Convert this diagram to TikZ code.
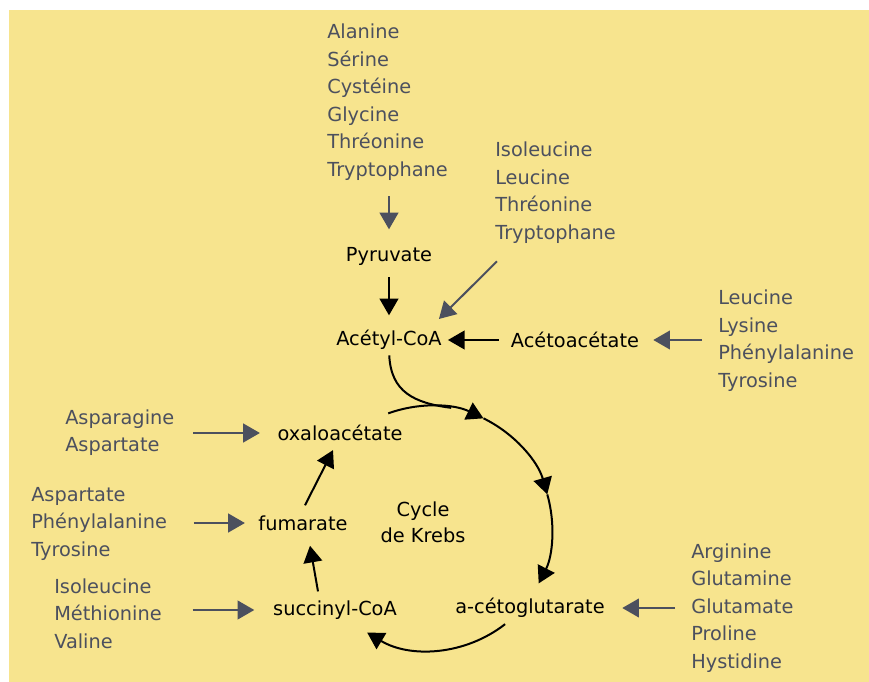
\documentclass[tikz,border=0pt]{standalone}
\usepackage{fontspec}
\setmainfont{DejaVu Sans}
\usepackage{xcolor}
\usepackage{tikz}
\usetikzlibrary{arrows.meta,calc}

\definecolor{bgyellow}{RGB}{247,228,142}
\definecolor{aagray}{RGB}{76,80,94}

\begin{document}
\begin{tikzpicture}[x=0.75pt,y=0.75pt,yscale=-1,xscale=1,
  met/.style={inner sep=0pt, font=\fontsize{14.5}{20.6}\selectfont, text=black},
  aa/.style={anchor=west, inner sep=0pt, align=left, font=\fontsize{14.5}{20.6}\selectfont, text=aagray},
  grayarr/.style={draw=aagray, line width=1.5pt, -{Triangle[length=12.5pt,width=14pt]}},
  blackarr/.style={draw=black, line width=1.5pt, -{Triangle[length=12.5pt,width=14pt]}}
]
\useasboundingbox (0,0) rectangle (869,682);
%Shape: Rectangle [background]
\fill [bgyellow] (9,10) rectangle (869,682);

% Text Node
\draw (389,256) node [met] (pyr) {Pyruvate};
% Text Node
\draw (389,340) node [met] (acetyl) {Acétyl-CoA};
% Text Node
\draw (575,340) node [met] (acetoac) {Acétoacétate};
% Text Node
\draw (340,433) node [met] (oxalo) {oxaloacétate};
% Text Node
\draw (303,523) node [met] (fum) {fumarate};
% Text Node
\draw (335,610) node [met] (succ) {succinyl-CoA};
% Text Node
\draw (530,608) node [met] (akg) {a-cétoglutarate};
% Text Node
\draw (423,522) node [met, align=center, font=\fontsize{14.5}{19.5}\selectfont] (krebs) {Cycle\\de Krebs};

% Text Node
\draw (327,102) node [aa] (srcpyr) {Alanine\\Sérine\\Cystéine\\Glycine\\Thréonine\\Tryptophane};
% Text Node
\draw (495,192.5) node [aa] (srcacetyl) {Isoleucine\\Leucine\\Thréonine\\Tryptophane};
% Text Node
\draw (718,340.5) node [aa] (srcacetoac) {Leucine\\Lysine\\Phénylalanine\\Tyrosine};
% Text Node
\draw (65,432.5) node [aa] (srcoxalo) {Asparagine\\Aspartate};
% Text Node
\draw (31,523.5) node [aa] (srcfum) {Aspartate\\Phénylalanine\\Tyrosine};
% Text Node
\draw (54,613.5) node [aa] (srcsucc) {Isoleucine\\Méthionine\\Valine};
% Text Node
\draw (691,608) node [aa] (srcakg) {Arginine\\Glutamine\\Glutamate\\Proline\\Hystidine};

%Straight Lines
\draw [grayarr, shorten <=12pt, shorten >=13pt] (pyr.north |- srcpyr.south) -- (pyr.north);
%Straight Lines
\draw [blackarr, shorten <=9pt, shorten >=11pt] (pyr.south) -- (acetyl.north);
%Straight Lines
\draw [grayarr] ($(srcacetyl.south west)+(2,18)$) -- ($(acetyl.north east)+(-3,-11)$);
%Straight Lines
\draw [blackarr, shorten <=9pt, shorten >=4.5pt] (acetoac.west) -- (acetyl.east);
%Straight Lines
\draw [grayarr, shorten <=12pt, shorten >=10.5pt] (srcacetoac.west |- acetoac) -- (acetoac.east);
%Straight Lines
\draw [grayarr, shorten <=14pt, shorten >=13pt] (srcoxalo.east |- oxalo) -- (oxalo.west);
%Straight Lines
\draw [grayarr, shorten <=20pt, shorten >=10pt] (srcfum.east |- fum) -- (fum.west);
%Straight Lines
\draw [grayarr, shorten <=23pt, shorten >=14pt] (srcsucc.east |- succ) -- (succ.west);
%Straight Lines
\draw [grayarr, shorten <=12pt, shorten >=13pt] (srcakg.west |- akg) -- (akg.east);

%Shape: Arc [Krebs cycle]
\coordinate (ctr) at (430,528);
\draw [blackarr] ($(ctr)+(-110:122)$) arc [start angle=-110, end angle=-64, radius=122];
\draw [blackarr] ($(ctr)+(-64:122)$) arc [start angle=-64, end angle=-16, radius=122];
\draw [blackarr] ($(ctr)+(-16:122)$) arc [start angle=-16, end angle=27, radius=122];
\draw [blackarr] ($(ctr)+(52:122)$) arc [start angle=52, end angle=121, radius=122];
%Curve Lines
\draw [line width=1.5pt, shorten <=4pt] (acetyl.south) .. controls (391,392) and (414,403) .. ($(ctr)+(-80:122)$);
%Straight Lines
\draw [blackarr] ($(succ.north)+(-17,-9)$) -- ($(fum.south)+(7,15)$);
%Straight Lines
\draw [blackarr] ($(fum.north)+(2,-10)$) -- ($(oxalo.south)+(-7,9)$);
\end{tikzpicture}
\end{document}
